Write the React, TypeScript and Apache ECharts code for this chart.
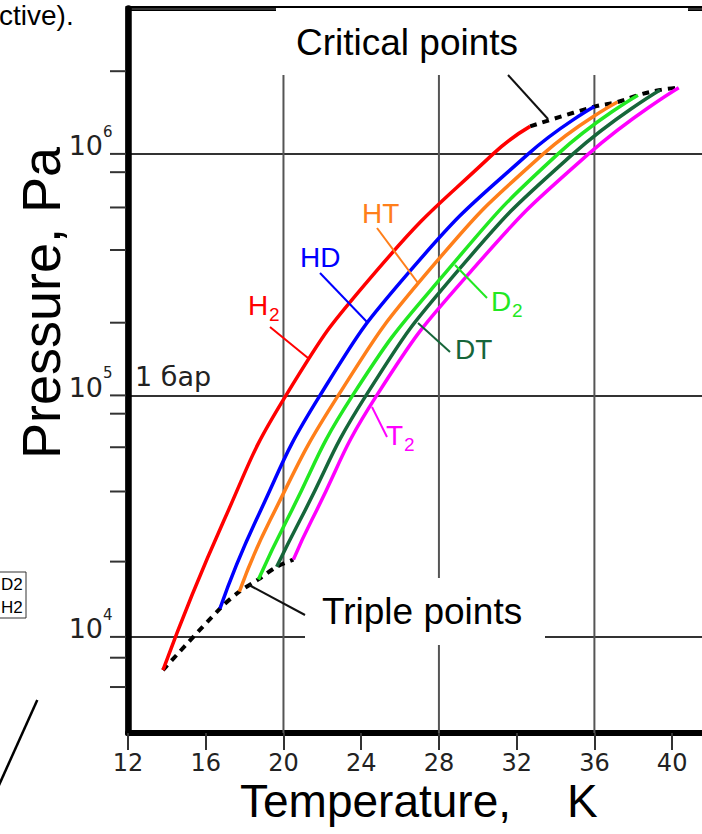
import React, { useEffect, useRef } from "react";
import * as echarts from "echarts";

// ---- data (T in K, P in Pa) ----
const xTicks = [12, 16, 20, 24, 28, 32, 36, 40];
const gridTemps = [20, 28, 36];
const yTickValues = [6200, 8200, 10000, 20500, 40000, 61000, 84000, 100000, 200000, 400000, 600000, 840000, 1000000, 2200000];
const yLabelExponents = [4, 5, 6];

const h2 = [[13.8, 7290], [16.94, 30400], [20.13, 100000], [24.82, 330000], [30.79, 1000000], [32.69, 1300000]];
const hd = [[16.73, 13100], [18.59, 30400], [21.88, 100000], [26.55, 330000], [32.6, 1000000], [36.0, 1570000]];
const ht = [[17.73, 15400], [19.31, 30400], [22.82, 100000], [27.5, 330000], [33.37, 1000000], [37.19, 1640000]];
const d2 = [[18.71, 17300], [20.17, 30400], [23.56, 100000], [28.45, 330000], [34.13, 1000000], [38.24, 1750000]];
const dt = [[19.65, 19500], [20.85, 30400], [24.25, 100000], [29.0, 330000], [34.9, 1000000], [39.38, 1840000]];
const t2 = [[20.51, 20900], [21.45, 30400], [24.8, 100000], [29.7, 330000], [35.7, 1000000], [40.34, 1880000]];

const curves = [h2, hd, ht, d2, dt, t2];
const curveColors = ["#ff0000", "#0000ff", "#ff7f1a", "#22e822", "#16663a", "#ff00ff"];
const triplePoints = curves.map((c) => c[0]);
const criticalPoints = curves.map((c) => c[c.length - 1]);

const X_MIN = 12;
const X_MAX = 42;
const Y_MIN = 4000;
const Y_MAX = 4000000;

const SANS = "Liberation Sans, Arial, sans-serif";
const DEJA = "DejaVu Sans, sans-serif";

function txt(text: string, x: number, y: number, size: number, fill: string, family = SANS, lineHeight?: number) {
  return {
    type: "text",
    x,
    y,
    z: 120,
    silent: true,
    style: {
      text,
      fontSize: size,
      fontFamily: family,
      fill,
      verticalAlign: "middle",
      align: "left",
      lineHeight: lineHeight || size,
    },
  };
}
function seg(x1: number, y1: number, x2: number, y2: number, stroke: string, w = 2) {
  return { type: "line", z: 115, silent: true, shape: { x1, y1, x2, y2 }, style: { stroke, lineWidth: w } };
}

export default function App() {
  const ref = useRef<HTMLDivElement>(null);
  useEffect(() => {
    if (!ref.current) return;
    const chart = echarts.init(ref.current, null, { renderer: "svg" });
    const option: any = {
      animation: false,
      backgroundColor: "#fff",
      textStyle: { fontFamily: SANS },
      grid: { left: 128, right: 49, top: 8.5, bottom: 101, show: true, borderColor: "#000", borderWidth: 5, backgroundColor: "transparent" },
      xAxis: {
        type: "value",
        min: X_MIN,
        max: X_MAX,
        interval: 4,
        axisLine: { show: true, lineStyle: { color: "#000", width: 6 } },
        axisTick: { show: true, length: 17, lineStyle: { color: "#333", width: 2 } },
        splitLine: { show: false },
        axisLabel: {
          margin: 18,
          fontFamily: DEJA,
          fontSize: 24,
          color: "#222",
          formatter: (v: number) => (xTicks.includes(v) ? String(v) : ""),
        },
      },
      yAxis: {
        type: "log",
        logBase: 10,
        min: Y_MIN,
        max: Y_MAX,
        axisLine: { show: true, lineStyle: { color: "#000", width: 6.5 } },
        axisTick: { show: false },
        axisLabel: { show: false },
        splitLine: { show: true, lineStyle: { color: "#333", width: 2 } },
      },
      series: [
        {
          type: "custom",
          z: 1,
          silent: true,
          clip: false,
          data: gridTemps.map((t) => [t, 100000]),
          renderItem: (params: any, api: any) => {
            const t = api.value(0);
            const p0 = api.coord([t, Y_MIN]);
            const p1 = api.coord([t, Y_MAX]);
            return { type: "line", shape: { x1: p0[0], y1: p0[1], x2: p1[0], y2: p1[1] }, style: { stroke: "#555", lineWidth: 2 } };
          },
        },
        {
          type: "custom",
          z: 1,
          silent: true,
          clip: false,
          data: yTickValues.map((v) => [X_MIN, v]),
          renderItem: (params: any, api: any) => {
            const p = api.coord([api.value(0), api.value(1)]);
            return { type: "line", shape: { x1: p[0] - 18, y1: p[1], x2: p[0] - 2, y2: p[1] }, style: { stroke: "#333", lineWidth: 2 } };
          },
        },
        {
          // y-axis labels 10^n placed through the log scale
          type: "custom",
          z: 6,
          silent: true,
          clip: false,
          data: yLabelExponents.map((e) => [X_MIN, Math.pow(10, e), e]),
          renderItem: (params: any, api: any) => {
            const p = api.coord([api.value(0), api.value(1)]);
            const e = api.value(2);
            return {
              type: "group",
              children: [
                {
                  type: "text",
                  x: p[0] - 25,
                  y: p[1] - 8,
                  style: { text: "10", fontFamily: DEJA, fontSize: 27, fill: "#222", align: "right", verticalAlign: "middle" },
                },
                {
                  type: "text",
                  x: p[0] - 25,
                  y: p[1] - 22,
                  style: { text: String(e), fontFamily: DEJA, fontSize: 15, fill: "#222", align: "left", verticalAlign: "middle" },
                },
              ],
            };
          },
        },
        {
          type: "line",
          data: triplePoints,
          smooth: 0.3,
          symbol: "none",
          silent: true,
          z: 3,
          lineStyle: { color: "#000", width: 4, type: [7, 6] },
        },
        {
          type: "line",
          data: criticalPoints,
          smooth: 0.4,
          symbol: "none",
          silent: true,
          z: 3,
          lineStyle: { color: "#000", width: 4, type: [7, 6] },
        },
        ...curves.map((c, i) => ({
          type: "line",
          data: c,
          smooth: 0.5,
          symbol: "none",
          silent: true,
          z: 5,
          lineStyle: { color: curveColors[i], width: 3.5 },
        })),
      ],
      graphic: [
        // white label boxes
        { type: "rect", z: 100, silent: true, shape: { x: 276, y: 8, width: 412, height: 67 }, style: { fill: "#fff" } },
        { type: "rect", z: 100, silent: true, shape: { x: 305, y: 578, width: 240, height: 67 }, style: { fill: "#fff" } },
        txt("Critical points", 296, 42, 37, "#000"),
        txt("Triple points", 322, 611, 37, "#000"),
        seg(508, 75, 548, 119, "#111"),
        seg(305, 615, 249, 585, "#111"),
        // axis titles
        txt("Temperature,", 240, 801, 46, "#000", SANS, 36),
        txt("K", 567, 801, 46, "#000", SANS, 36),
        {
          type: "text",
          x: 41,
          y: 303,
          rotation: Math.PI / 2,
          z: 120,
          silent: true,
          style: { text: "Pressure, Pa", fontSize: 54, fontFamily: SANS, fill: "#000", align: "center", verticalAlign: "middle" },
        },
        txt("1 бар", 135, 376, 27, "#222", DEJA),
        // curve labels and leaders
        txt("H", 248, 305, 28, "#ff0000"),
        txt("2", 269, 314, 19, "#ff0000"),
        seg(270, 327, 308, 358, "#ff0000"),
        txt("HD", 300, 257, 28, "#0000ff"),
        seg(320, 273, 367, 322, "#0000ff"),
        txt("HT", 362, 213, 28, "#ff7f1a"),
        seg(377, 228, 418, 283, "#ff7f1a"),
        txt("D", 491, 301, 28, "#22e822"),
        txt("2", 512, 310, 19, "#22e822"),
        seg(455, 265, 487, 298, "#22e822"),
        txt("DT", 455, 349, 28, "#16663a"),
        seg(418, 323, 450, 352, "#16663a"),
        txt("T", 386, 435, 28, "#ff00ff"),
        txt("2", 404, 444, 19, "#ff00ff"),
        seg(372, 407, 387, 437, "#ff00ff"),
        // remnants of the surrounding page
        txt("ctive).", -1, 15, 28, "#000"),
        { type: "rect", z: 100, silent: true, shape: { x: -5, y: 572, width: 31, height: 46 }, style: { fill: "#fff", stroke: "#333", lineWidth: 1 } },
        txt("D2", 1, 584, 17, "#000"),
        txt("H2", 1, 607, 17, "#000"),
        seg(37.3, 700, -5, 794, "#000", 2.5),
      ],
    };
    chart.setOption(option);
    return () => chart.dispose();
  }, []);
  return (
    <div style={{ position: "fixed", left: 0, top: 0, width: 702, height: 834, overflow: "hidden", background: "#fff" }}>
      <div ref={ref} style={{ width: 760, height: 834 }} />
    </div>
  );
}
